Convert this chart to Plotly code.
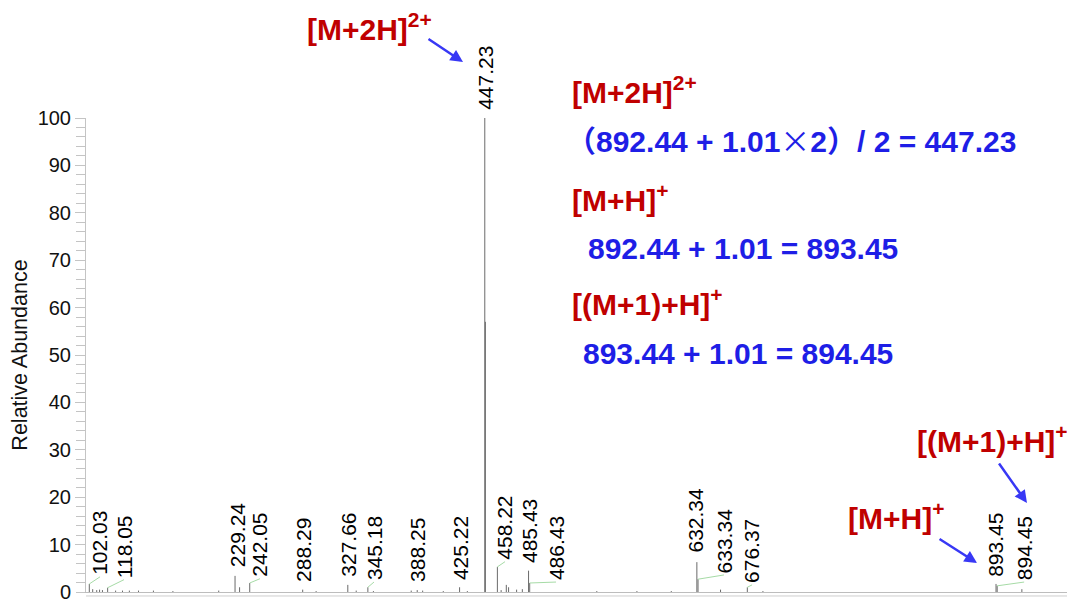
import plotly.graph_objects as go

# ---- data ----
label_mz = [102.03, 118.05, 229.24, 242.05, 288.29, 327.66, 345.18, 388.25, 425.22,
            447.23, 458.22, 485.43, 486.43, 632.34, 633.34, 676.37, 893.45, 894.45]
label_int = [1.7, 0.9, 3.4, 1.9, 0.5, 1.5, 1.0, 0.4, 1.0,
             100.0, 5.3, 4.5, 1.9, 6.3, 2.7, 1.0, 1.7, 1.3]
# label text placement (m/z of text centre, abundance of text bottom)
label_pos_mz = [111.4, 132.3, 230.9, 251.0, 289.4, 328.7, 350.5, 388.9, 425.6,
                448.3, 464.9, 486.7, 509.4, 631.6, 656.0, 680.5, 893.5, 918.0]
label_pos_y = [3.2, 2.6, 4.9, 2.8, 1.7, 2.8, 2.1, 1.7, 2.1,
               101.3, 6.4, 5.7, 2.1, 7.8, 3.6, 1.5, 2.8, 2.1]
leader = [True, True, False, True, False, False, True, False, False,
          False, True, False, True, False, True, True, False, True]

minor_mz = [105.0, 108.5, 111.0, 113.5, 125.0, 131.0, 137.0, 145.0, 158.0, 175.0,
            215.0, 233.2, 300.0, 335.0, 350.0, 383.0, 393.0, 411.0, 432.0, 447.73,
            461.5, 466.0, 468.0, 475.0, 480.0, 545.0, 580.0, 610.0, 653.0, 690.0, 916.0]
minor_int = [0.6, 0.4, 0.5, 0.4, 0.3, 0.3, 0.3, 0.3, 0.3, 0.2,
             0.3, 1.0, 0.2, 0.3, 0.2, 0.3, 0.3, 0.2, 0.2, 57.0,
             0.4, 1.5, 1.0, 0.5, 0.6, 0.2, 0.2, 0.2, 0.5, 0.2, 0.6]

y_ticks = list(range(10, 101, 10))
Y_MAX = 100.0

FONT = "Arial, Liberation Sans, sans-serif"
RED = "#C00000"
BLUE = "#1E1EE6"
ARROW = "#3838F5"

fig = go.Figure()

# spectrum sticks
all_mz = label_mz + minor_mz
all_int = label_int + minor_int
xs, ys = [], []
for m, h in zip(all_mz, all_int):
    xs += [m, m, None]
    ys += [0, h, None]
fig.add_trace(go.Scatter(x=xs, y=ys, mode="lines",
                         line=dict(color="#6a6a6a", width=1),
                         hoverinfo="skip", showlegend=False))

# green leader lines
lx, ly = [], []
for m, h, pm, py, ok in zip(label_mz, label_int, label_pos_mz, label_pos_y, leader):
    if ok:
        lx += [m, pm, None]
        ly += [h, py, None]
fig.add_trace(go.Scatter(x=lx, y=ly, mode="lines",
                         line=dict(color="#a6dba6", width=1),
                         hoverinfo="skip", showlegend=False))

annotations = []
for m, pm, py in zip(label_mz, label_pos_mz, label_pos_y):
    annotations.append(dict(x=pm, y=py / Y_MAX, xref="x", yref="paper", text=f"{m:.2f}",
                            textangle=-90, xanchor="center", yanchor="bottom",
                            showarrow=False, font=dict(family=FONT, size=21, color="black")))

# "0" tick label (drawn as annotation so it is not dropped at the figure edge)
annotations.append(dict(x=0, y=0, xref="paper", yref="paper", text="0",
                        xanchor="right", yanchor="middle", xshift=-13, showarrow=False,
                        font=dict(family=FONT, size=20, color="#111")))

def ptxt(text, x, y, color, size):
    annotations.append(dict(x=x, y=y, xref="paper", yref="paper", text=text,
                            xanchor="left", yanchor="middle", showarrow=False,
                            font=dict(family=FONT, size=size, color=color)))

X = "<span style='font-family:Noto Sans CJK SC;font-weight:normal'>×</span>"
P1 = "<span style='font-family:Noto Sans CJK SC'>（</span>"
P2 = "<span style='font-family:Noto Sans CJK SC'>）</span>"

ptxt("<b>[M+2H]<sup>2+</sup></b>", 0.4934, 1.060, RED, 30)
ptxt(f"<b>{P1}892.44 + 1.01{X}2{P2}/ 2 = 447.23</b>", 0.4870, 0.9557, BLUE, 30)
ptxt("<b>[M+H]<sup>+</sup></b>", 0.4934, 0.831, RED, 30)
ptxt("<b>892.44 + 1.01 = 893.45</b>", 0.5100, 0.7257, BLUE, 30)
ptxt("<b>[(M+1)+H]<sup>+</sup></b>", 0.4934, 0.611, RED, 30)
ptxt("<b>893.44 + 1.01 = 894.45</b>", 0.5050, 0.5042, BLUE, 30)
ptxt("<b>[(M+1)+H]<sup>+</sup></b>", 0.845, 0.322, RED, 30)
ptxt("<b>[M+H]<sup>+</sup></b>", 0.7750, 0.160, RED, 30)
ptxt("<b>[M+2H]<sup>2+</sup></b>", 0.2230, 1.191, RED, 30)

for tx, ty, ax, ay in [(0.3843, 1.1181, -36, -24),
                       (0.9083, 0.0612, -39, -25),
                       (0.9592, 0.1878, -29, -41)]:
    annotations.append(dict(x=tx, y=ty, xref="paper", yref="paper", text="",
                            showarrow=True, ax=ax, ay=ay, arrowhead=2,
                            arrowsize=1, arrowwidth=2.5, arrowcolor=ARROW))

fig.update_layout(
    width=1067, height=599,
    margin=dict(l=86, r=0, t=118, b=7),
    plot_bgcolor="white", paper_bgcolor="white",
    annotations=annotations,
    shapes=[dict(type="line", xref="paper", yref="paper", x0=0, x1=1,
                 y0=-0.0084, y1=-0.0084, line=dict(color="#cfcfcf", width=1))],
    xaxis=dict(range=[99.15, 955.4], showticklabels=False, ticks="",
               showline=True, linecolor="#bdbdbd", linewidth=1,
               showgrid=False, zeroline=False),
    yaxis=dict(range=[0, Y_MAX], tickvals=y_ticks, ticks="outside", ticklen=10,
               tickcolor="#c4c4c4", showline=True, linecolor="#c4c4c4",
               showgrid=False, zeroline=False,
               tickfont=dict(family=FONT, size=20, color="#111"),
               minor=dict(dtick=2, ticks="outside", ticklen=9, tickcolor="#c4c4c4"),
               title=dict(text="Relative Abundance", standoff=4,
                          font=dict(family=FONT, size=21.5, color="#111"))),
)

fig.write_html("out.html", config={"displayModeBar": False},
               post_script="document.body.style.margin='0';")
